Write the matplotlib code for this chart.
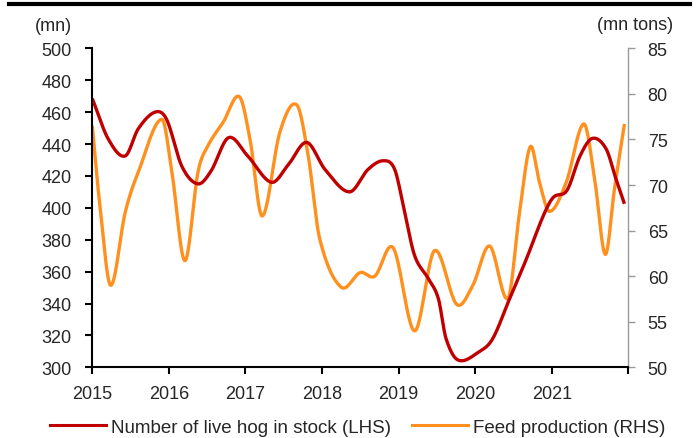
import numpy as np
import matplotlib.pyplot as plt
from matplotlib.lines import Line2D

plt.rcParams.update({
    "font.family": "Liberation Sans",
    "font.size": 13,
    "xtick.labelsize": 13,
    "ytick.labelsize": 13,
})

# Live hog stock (mn head), traced points: (year, value)
hog_x = [2015.00, 2015.21, 2015.43, 2015.60, 2015.82, 2015.97, 2016.17, 2016.38,
         2016.55, 2016.78, 2017.03, 2017.34, 2017.56, 2017.80, 2018.04, 2018.36,
         2018.60, 2018.80, 2018.95, 2019.08, 2019.21, 2019.39, 2019.52, 2019.62,
         2019.78, 2020.06, 2020.23, 2020.45, 2020.67, 2020.89, 2021.02, 2021.20,
         2021.37, 2021.53, 2021.71, 2021.84, 2021.95]
hog_val = [468.5, 443, 432.5, 449.5, 460, 455.5, 426, 415,
           423, 444, 432.5, 416, 427, 441, 424, 410,
           424, 429.5, 424, 397, 370, 355.5, 343, 318,
           304.5, 310, 318, 343, 368, 395, 406.5, 411,
           432.5, 443.5, 437, 418, 402.5]

# Feed production (mn tons)
feed_x = [2015.00, 2015.10, 2015.24, 2015.43, 2015.60, 2015.91, 2016.04, 2016.21,
          2016.38, 2016.51, 2016.71, 2016.92, 2017.06, 2017.22, 2017.45, 2017.67,
          2017.82, 2017.97, 2018.25, 2018.50, 2018.69, 2018.93, 2019.21, 2019.47,
          2019.76, 2019.97, 2020.19, 2020.43, 2020.58, 2020.72, 2020.84, 2020.97,
          2021.19, 2021.42, 2021.56, 2021.70, 2021.82, 2021.95]
feed_val = [76.5, 67.7, 59.0, 67.0, 71.4, 77.2, 71.4, 61.7,
            71.4, 74.3, 76.9, 79.7, 75.0, 66.6, 75.8, 78.8,
            73.2, 64.1, 58.8, 60.4, 60.0, 63.1, 54.0, 62.8,
            56.9, 59.0, 63.3, 57.6, 67.0, 74.2, 70.3, 67.1,
            70.3, 76.7, 70.7, 62.4, 69.6, 76.7]

year_ticks = [2015, 2016, 2017, 2018, 2019, 2020, 2021, 2022]
year_labels = ["2015", "2016", "2017", "2018", "2019", "2020", "2021", ""]

RED = "#C00000"
ORANGE = "#FF901E"
TXT = "#262626"


def smooth(xs, ys, n=30):
    # cubic Hermite through the points with centred-difference slopes
    x = np.asarray(xs, float)
    y = np.asarray(ys, float)
    m = np.empty_like(y)
    m[1:-1] = (y[2:] - y[:-2]) / (x[2:] - x[:-2])
    m[0] = (y[1] - y[0]) / (x[1] - x[0])
    m[-1] = (y[-1] - y[-2]) / (x[-1] - x[-2])
    t = np.linspace(0, 1, n, endpoint=False)
    h00 = 2 * t**3 - 3 * t**2 + 1
    h10 = t**3 - 2 * t**2 + t
    h01 = -2 * t**3 + 3 * t**2
    h11 = t**3 - t**2
    ox, oy = [], []
    for i in range(len(x) - 1):
        h = x[i + 1] - x[i]
        ox.append(x[i] + t * h)
        oy.append(h00 * y[i] + h10 * h * m[i] + h01 * y[i + 1] + h11 * h * m[i + 1])
    ox.append([x[-1]])
    oy.append([y[-1]])
    return np.concatenate(ox), np.concatenate(oy)


fig = plt.figure(figsize=(6.97, 4.39), dpi=100)
ax = fig.add_axes([0.1324, 0.161, 0.7690, 0.7267])
ax2 = ax.twinx()

sx, sy = smooth(feed_x, feed_val)
ax2.plot(sx, sy, color=ORANGE, lw=2.4, solid_capstyle="butt")
hx, hy = smooth(hog_x, hog_val)
ax.plot(hx, hy, color=RED, lw=2.4, solid_capstyle="butt")
ax.set_zorder(ax2.get_zorder() + 1)
ax.patch.set_visible(False)

ax.set_xlim(2015, 2022)
ax.set_ylim(300, 500)
ax.set_yticks(np.arange(300, 501, 20))
ax.set_xticks(year_ticks)
ax.set_xticklabels(year_labels)
ax2.set_ylim(50, 85)
ax2.set_yticks(np.arange(50, 86, 5))

for s in ["top", "right"]:
    ax.spines[s].set_visible(False)
for s in ["top", "left", "bottom"]:
    ax2.spines[s].set_visible(False)
ax.spines["left"].set_linewidth(1.5)
ax.spines["bottom"].set_linewidth(1.5)
ax2.spines["right"].set_color("#999999")
ax2.spines["right"].set_linewidth(1.0)

ax.tick_params(axis="both", direction="out", length=5, width=1.5, colors="black",
               labelcolor=TXT)
ax.tick_params(axis="y", pad=10)
ax.tick_params(axis="x", pad=8)
ax2.tick_params(axis="y", direction="out", length=5, width=1.0, colors="#999999",
                labelcolor=TXT, pad=9)

fig.text(0.077, 0.94, "(mn)", ha="center", va="center", fontsize=13, color=TXT)
fig.text(0.911, 0.942, "(mn tons)", ha="center", va="center", fontsize=13, color=TXT)

# heavy rule across the top
fig.add_artist(Line2D([0.013, 0.99], [0.988, 0.988], color="black", lw=3,
                      transform=fig.transFigure))

handles = [Line2D([], [], color=RED, lw=2.2), Line2D([], [], color=ORANGE, lw=2.2)]
fig.legend(handles, ["Number of live hog in stock (LHS)", "Feed production (RHS)"],
           loc="center", bbox_to_anchor=(0.513, 0.025), ncol=2, frameon=False,
           fontsize=13.5, handlelength=3.0, handletextpad=0.25, columnspacing=1.1,
           labelcolor=TXT, borderpad=0.0)

fig.savefig("out.png", dpi=100)
